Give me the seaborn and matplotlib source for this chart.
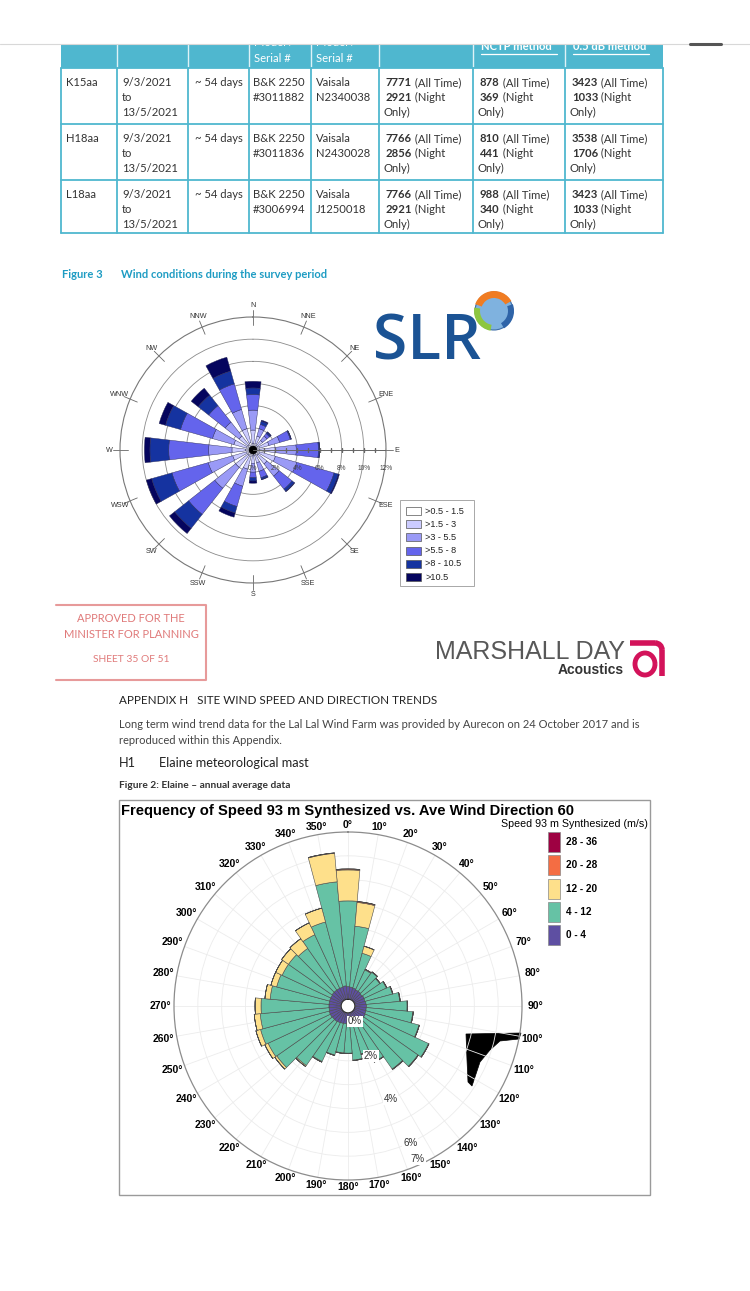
import numpy as np
import matplotlib
matplotlib.use("Agg")
import matplotlib.pyplot as plt
from matplotlib.patches import Rectangle, Circle, Wedge, Polygon, Arc
import seaborn as sns

sns.set_theme(style="white")
DOC = ["Lato", "DejaVu Sans"]
ARIAL = ["Liberation Sans", "DejaVu Sans"]
plt.rcParams["font.family"] = DOC

W, H = 750, 1291

# ---------------- table (survey summary) ----------------
sites = ["K15aa", "H18aa", "L18aa"]
dates = ["9/3/2021", "to", "13/5/2021"]
duration = "~ 54 days"
slm_model = "B&K 2250"
slm_serial = ["#3011882", "#3011836", "#3006994"]
wx_model = "Vaisala"
wx_serial = ["N2340038", "N2430028", "J1250018"]
total_all = [7771, 7766, 7766]
total_night = [2921, 2856, 2921]
nctp_all = [878, 810, 988]
nctp_night = [369, 441, 340]
db_all = [3423, 3538, 3423]
db_night = [1033, 1706, 1033]

# ---------------- Figure 3 wind rose (16 sectors, % of time) ----------------
slr_dirs = ["N", "NNE", "NE", "ENE", "E", "ESE", "SE", "SSE",
            "S", "SSW", "SW", "WSW", "W", "WNW", "NW", "NNW"]
slr_bins = [">0.5 - 1.5", ">1.5 - 3", ">3 - 5.5", ">5.5 - 8", ">8 - 10.5", ">10.5"]
slr_0p5_1p5 = [0.6, 0.6, 0.5, 0.6, 0.6, 0.6, 0.6, 0.5, 0.5, 0.6, 0.6, 0.6, 0.7, 0.6, 0.6, 0.7]
slr_1p5_3 = [1.2, 0.7, 0.6, 0.9, 1.4, 1.5, 1.0, 0.7, 0.7, 1.2, 1.4, 1.3, 1.2, 1.2, 1.0, 1.3]
slr_3_5p5 = [1.8, 0.7, 0.5, 1.0, 1.9, 2.0, 1.4, 0.8, 0.8, 1.6, 2.4, 2.3, 2.1, 2.0, 1.6, 1.8]
slr_5p5_8 = [1.4, 0.4, 0.3, 1.0, 2.0, 3.5, 1.5, 0.6, 0.5, 1.9, 3.0, 3.4, 3.6, 3.0, 1.9, 2.4]
slr_8_10p5 = [0.6, 0.3, 0.15, 0.08, 0.1, 0.4, 0.25, 0.15, 0.3, 0.6, 1.6, 1.9, 1.7, 1.4, 1.2, 1.2]
slr_10p5 = [0.6, 0.1, 0.05, 0.02, 0.0, 0.1, 0.05, 0.05, 0.2, 0.4, 0.6, 0.5, 0.5, 0.6, 0.8, 1.3]
slr_colors = ["#ffffff", "#ccccff", "#9a9af6", "#6464ec", "#1533a0", "#05055e"]

# ---------------- Elaine mast rose (36 sectors, % of time) ----------------
elaine_dirs = np.arange(0, 360, 10)
elaine_bins = ["0 - 4", "4 - 12", "12 - 20", "20 - 28", "28 - 36"]
elaine_0_4 = [0.52, 0.50, 0.48, 0.45, 0.45, 0.42, 0.45, 0.44, 0.46, 0.48, 0.47, 0.48,
              0.50, 0.50, 0.48, 0.46, 0.44, 0.45, 0.44, 0.45, 0.46, 0.48, 0.50, 0.50,
              0.52, 0.52, 0.50, 0.50, 0.50, 0.50, 0.50, 0.52, 0.52, 0.52, 0.52, 0.55]
elaine_4_12 = [3.59, 2.56, 1.51, 0.92, 0.98, 0.91, 1.03, 1.19, 1.42, 1.70, 1.96, 2.30,
               2.93, 2.78, 2.45, 1.82, 1.34, 1.53, 1.24, 1.23, 1.37, 1.79, 2.25, 2.85,
               2.88, 2.98, 2.90, 2.85, 2.48, 2.30, 2.25, 2.23, 2.13, 2.48, 2.83, 4.38]
elaine_12_20 = [1.30, 1.00, 0.30, 0.03, 0.02, 0.02, 0.02, 0.02, 0.02, 0.02, 0.02, 0.02,
                0.02, 0.02, 0.02, 0.02, 0.02, 0.02, 0.02, 0.02, 0.02, 0.03, 0.05, 0.10,
                0.15, 0.20, 0.25, 0.25, 0.22, 0.25, 0.30, 0.35, 0.50, 0.55, 0.60, 1.20]
elaine_20_28 = [0.04, 0.04, 0.01, 0, 0, 0, 0, 0, 0, 0, 0, 0,
                0, 0, 0, 0, 0, 0, 0, 0, 0, 0, 0, 0,
                0, 0, 0, 0, 0, 0, 0, 0, 0, 0, 0, 0.02]
elaine_28_36 = [0.0] * 36
elaine_colors = sns.color_palette(["#5e4fa2", "#66c2a5", "#fee08b", "#f46d43", "#9e0142"])

fig = plt.figure(figsize=(W / 100, H / 100), dpi=100)
page = fig.add_axes([0, 0, 1, 1])
page.set_xlim(0, W)
page.set_ylim(H, 0)
page.axis("off")


def put(x, y, s, size=8.1, color="#333333", weight="normal", ha="left", family=DOC, **kw):
    return page.text(x, y, s, fontsize=size, color=color, fontweight=weight, ha=ha,
                     va="center", family=family, **kw)


def num_text(x, y, num, rest):
    t = put(x, y, str(num), weight="bold")
    page.annotate(rest, xy=(1, 0.5), xycoords=t, va="center", ha="left",
                  fontsize=8.1, color="#333333", family=DOC)


# ---- table
teal = "#4fb7cf"
col_x = [61, 117, 188, 249, 311, 379, 473, 565, 663]
row_top = [68, 124, 180, 233]
page.add_patch(Rectangle((col_x[0], 40), col_x[-1] - col_x[0], 28, color=teal, lw=0))
for x in col_x[1:-1]:
    page.plot([x, x], [40, 68], color="#dff2f7", lw=1)
for x in col_x:
    page.plot([x, x], [68, 233], color=teal, lw=1.3)
for y in row_top:
    page.plot([col_x[0], col_x[-1]], [y, y], color=teal, lw=1.3)
for c in (3, 4):
    put(col_x[c] + 5, 42, "Model /", color="white")
    put(col_x[c] + 5, 58, "Serial #", color="white")
for c, s in ((6, "NCTP method"), (7, "0.5 dB method")):
    put(col_x[c] + 8, 47, s, color="white", weight="bold")
    page.plot([col_x[c] + 8, col_x[c] + 84], [54, 54], color="white", lw=0.9)
page.add_patch(Rectangle((0, 0), W, 44, color="white", lw=0, zorder=5))
page.plot([0, W], [44, 44], color="#d8d8d8", lw=0.8, zorder=6)
page.plot([690, 721], [44, 44], color="#555555", lw=2.2, zorder=6, solid_capstyle="round")

dy = 14.5
for i in range(3):
    y0 = row_top[i] + 15
    put(col_x[0] + 5, y0, sites[i])
    for k, s in enumerate(dates):
        put(col_x[1] + 5, y0 + k * dy, s)
    put(col_x[2] + 7, y0, duration)
    put(col_x[3] + 4, y0, slm_model)
    put(col_x[3] + 4, y0 + dy, slm_serial[i])
    put(col_x[4] + 5, y0, wx_model)
    put(col_x[4] + 5, y0 + dy, wx_serial[i])
    for c, (a, n) in enumerate([(total_all, total_night), (nctp_all, nctp_night),
                                (db_all, db_night)]):
        x = col_x[5 + c] + 7
        num_text(x, y0, a[i], " (All Time)")
        num_text(x, y0 + dy, n[i], " (Night")
        put(x - 2, y0 + 2 * dy, "Only)")

put(62, 274, "Figure 3", size=8, color="#1e9cc3", weight="bold")
put(121, 274, "Wind conditions during the survey period", size=8, color="#1e9cc3", weight="bold")

# ---- SLR wind rose
c1x, c1y, R1 = 253, 450, 133
ax1 = fig.add_axes([(c1x - R1) / W, 1 - (c1y + R1) / H, 2 * R1 / W, 2 * R1 / H],
                   projection="polar")
ax1.set_theta_zero_location("N")
ax1.set_theta_direction(-1)
ax1.set_facecolor("none")
theta1 = np.deg2rad(np.arange(16) * 22.5)
base = np.zeros(16)
for vals, col in zip([slr_0p5_1p5, slr_1p5_3, slr_3_5p5, slr_5p5_8, slr_8_10p5, slr_10p5],
                     slr_colors):
    ax1.bar(theta1, vals, width=np.deg2rad(13.5), bottom=base, color=col,
            edgecolor="#2a2a55", linewidth=0.3, zorder=3)
    base = base + np.array(vals)
ax1.set_ylim(0, 12)
ax1.set_yticks([2, 4, 6, 8, 10])
ax1.set_yticklabels([])
ax1.set_xticks([])
ax1.yaxis.grid(True, color="#8a8a8a", lw=0.6)
ax1.set_axisbelow(True)
ax1.spines["polar"].set_color("#777777")
ax1.spines["polar"].set_linewidth(0.8)
for t in np.linspace(0, 2 * np.pi, 64, endpoint=False):
    ax1.plot([t, t], [0, 0.35], color="black", lw=0.5, zorder=4)
for t, name in zip(theta1, slr_dirs):
    ax1.plot([t, t], [11.3, 12.6], color="#666666", lw=0.6, clip_on=False)
    ax1.text(t, 13.0, name, ha="center", va="center", fontsize=5.2, color="#333333",
             family=ARIAL, clip_on=False)
ax1.plot([np.pi / 2, np.pi / 2], [0, 12], color="#666666", lw=0.7, zorder=4)
ax1.plot(np.full(12, np.pi / 2), np.arange(1, 13), ls="none", marker="|", ms=3,
         color="#666666", zorder=4)
for r in range(0, 13, 2):
    ax1.annotate(f"{r}%", xy=(np.pi / 2, r), xytext=(0, -13), textcoords="offset points",
                 ha="center", va="center", fontsize=4.8, color="#444444", family=ARIAL,
                 zorder=5)

# legend for SLR rose
page.add_patch(Rectangle((400, 500), 74, 86, fc="white", ec="#9a9a9a", lw=0.6))
for k, (lab, col) in enumerate(zip(slr_bins, slr_colors)):
    yy = 511 + 13.2 * k
    page.add_patch(Rectangle((406, yy - 4), 15, 8, fc=col, ec="#555555", lw=0.5))
    put(425, yy, lab, size=6.6, color="#222222", family=ARIAL)

# SLR logo
put(373, 343, "SLR", size=45, color="#1b5394", weight="semibold",
    family=["Open Sans", "DejaVu Sans"])
page.add_patch(Circle((494, 311), 19, fc="#7fb2df", ec="#3f6fa8", lw=0.8))
page.add_patch(Wedge((494, 311), 20, 200, 330, width=7, fc="#f07c22", lw=0))
page.add_patch(Wedge((494, 311), 20, 100, 190, width=6, fc="#8dc640", lw=0))
page.add_patch(Wedge((494, 311), 20, 340, 60, width=6, fc="#2f64a8", lw=0))

# approval stamp
stamp = "#e07a7a"
page.plot([56, 206, 206, 56], [605, 605, 680, 680], color="#e79a9a", lw=1.5)
put(131, 619, "APPROVED FOR THE", size=8, color=stamp, ha="center")
put(131, 634, "MINISTER FOR PLANNING", size=8, color=stamp, ha="center")
put(131, 659, "SHEET 35 OF 51", size=7.4, color=stamp, ha="center")

# Marshall Day logo
put(625, 652, "MARSHALL DAY", size=18, color="#585858", ha="right", family=ARIAL)
put(624, 670, "Acoustics", size=10, color="#333333", ha="right", weight="bold", family=ARIAL)
mag = "#d3135a"
page.plot([630, 655], [643, 643], color=mag, lw=4, solid_capstyle="butt")
page.add_patch(Arc((655, 650), 14, 14, theta1=270, theta2=360, color=mag, lw=4))
page.plot([662, 662], [650, 676], color=mag, lw=4, solid_capstyle="butt")
page.add_patch(Arc((645, 664), 20, 22, color=mag, lw=3.5))

# appendix text
put(119, 701, "APPENDIX H   SITE WIND SPEED AND DIRECTION TRENDS", size=8.4, color="#222222")
put(119, 724, "Long term wind trend data for the Lal Lal Wind Farm was provided by Aurecon "
    "on 24 October 2017 and is", size=8.0, color="#444444")
put(119, 741, "reproduced within this Appendix.", size=8.0, color="#444444")
put(119, 763, "H1", size=9.2, color="#222222")
put(159, 763, "Elaine meteorological mast", size=9.2, color="#222222")
put(119, 786, "Figure 2: Elaine \u2013 annual average data", size=7.3, color="#333333",
    weight="bold")

# ---- Elaine chart
page.add_patch(Rectangle((119, 800), 531, 395, fc="white", ec="#9a9a9a", lw=1))
put(121, 811, "Frequency of Speed 93 m Synthesized vs. Ave Wind Direction 60", size=10.6,
    color="black", weight="bold", family=ARIAL)

c2x, c2y, R2 = 348, 1006, 174
ax2 = fig.add_axes([(c2x - R2) / W, 1 - (c2y + R2) / H, 2 * R2 / W, 2 * R2 / H],
                   projection="polar")
ax2.set_theta_zero_location("N")
ax2.set_theta_direction(-1)
ax2.set_facecolor("none")
theta2 = np.deg2rad(elaine_dirs)
base = np.zeros(36)
for vals, col in zip([elaine_0_4, elaine_4_12, elaine_12_20, elaine_20_28, elaine_28_36],
                     elaine_colors):
    ax2.bar(theta2, vals, width=np.deg2rad(10), bottom=base, color=col,
            edgecolor="#4a4a4a", linewidth=0.4, zorder=3)
    base = base + np.array(vals)
ax2.set_ylim(0, 7)
ax2.set_rorigin(-0.3)
ax2.set_yticks([1, 2, 3, 4, 5, 6])
ax2.set_yticklabels([])
ax2.set_xticks(theta2)
ax2.set_xticklabels([])
ax2.grid(True, color="#ececec", lw=0.6)
ax2.set_axisbelow(True)
ax2.spines["polar"].set_color("#8c8c8c")
ax2.spines["polar"].set_linewidth(0.9)
for t, d in zip(theta2, elaine_dirs):
    ax2.text(t, 7.29 + 0.27 * abs(np.sin(t)), f"{d}\u00b0", ha="center", va="center",
             fontsize=7.5, fontweight="bold", color="black", family=ARIAL, clip_on=False)
for r in [0, 2, 4, 6, 7]:
    ax2.text(np.deg2rad(155.5), min(max(r, 0.41), 6.75), f"{r}%", ha="center", va="center",
             fontsize=7, color="#333333", family=ARIAL, zorder=6,
             bbox=dict(fc="white", ec="none", pad=0.6))

# scanning artefact near 105 degrees
page.add_patch(Polygon([(466, 1034), (521, 1033), (519, 1039), (500, 1041), (490, 1050),
                        (480, 1062), (472, 1086), (468, 1082), (467, 1060)],
                       fc="black", ec="black", lw=0.5, zorder=6))

# legend for Elaine chart
put(648, 824, "Speed 93 m Synthesized (m/s)", size=7.7, color="black", ha="right",
    family=ARIAL)
for k, (lab, col) in enumerate(zip(elaine_bins[::-1], elaine_colors[::-1])):
    yy = 842 + 23.3 * k
    page.add_patch(Rectangle((548, yy - 10), 12, 20, fc=col, ec="#888888", lw=0.5))
    put(566, yy, lab, size=7.2, color="black", weight="bold", family=ARIAL)

fig.savefig("out.png", dpi=100)
